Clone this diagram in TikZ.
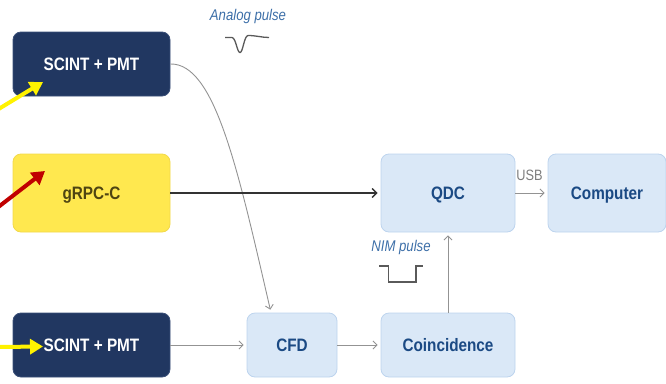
\documentclass[tikz,border=0pt]{standalone}
\usepackage{fontspec}
\setmainfont[FakeStretch=0.85]{Liberation Sans}
\usetikzlibrary{arrows.meta}
\definecolor{navy}{HTML}{213761}
\definecolor{navyedge}{HTML}{3A4F78}
\definecolor{sun}{HTML}{FFE84F}
\definecolor{sunedge}{HTML}{F2D94A}
\definecolor{suntext}{HTML}{4F4512}
\definecolor{pale}{HTML}{DAE8F7}
\definecolor{paleedge}{HTML}{BDD4EE}
\definecolor{paletext}{HTML}{1B4A84}
\definecolor{lbl}{HTML}{3D6FA8}
\definecolor{wire}{HTML}{939393}
\definecolor{darkwire}{HTML}{333333}
\definecolor{pulse}{HTML}{5A5A5A}
\definecolor{ray}{HTML}{FFF200}
\definecolor{redray}{HTML}{C00000}
\tikzset{
  boxbase/.style={rounded corners=8pt, inner sep=0pt, line width=0.8pt,
    text height=12.9pt, text depth=0pt,
    font=\bfseries\fontsize{18}{20}\selectfont},
  navybox/.style={boxbase, fill=navy, draw=navyedge, text=white},
  sunbox/.style={boxbase, fill=sun, draw=sunedge, text=suntext},
  palebox/.style={boxbase, fill=pale, draw=paleedge, text=paletext},
  graywire/.style={draw=wire, line width=0.9pt, -{Straight Barb[length=4pt,width=8pt]}, shorten >=3pt},
  blackwire/.style={draw=darkwire, line width=1.4pt, -{Straight Barb[length=4.5pt,width=9pt]}, shorten >=3pt},
  italiclabel/.style={font=\itshape\fontsize{15.5}{17}\selectfont, text=lbl, inner sep=0pt, anchor=base},
  pulseline/.style={draw=pulse, line width=1.3pt},
  beam/.style={line width=4pt, -{Triangle[length=13pt,width=15pt]}},
}
\begin{document}
\begin{tikzpicture}[x=1pt,y=-1pt]
\useasboundingbox (0,0) rectangle (666,383);

\node[navybox, minimum width=157pt, minimum height=64pt] (scinta) at (91.5,64) {SCINT + PMT};
\node[sunbox, minimum width=157pt, minimum height=78pt] (grpc) at (91.5,193) {gRPC-C};
\node[navybox, minimum width=157pt, minimum height=64pt] (scintb) at (91.5,345) {SCINT + PMT};
\node[palebox, minimum width=90pt, minimum height=64pt] (cfd) at (292,345) {CFD};
\node[palebox, minimum width=134pt, minimum height=78pt] (qdc) at (448,193) {QDC};
\node[palebox, minimum width=118pt, minimum height=78pt] (comp) at (607,193) {Computer};
\node[palebox, minimum width=134pt, minimum height=64pt] (coinc) at (448,345) {Coincidence};

% connectors
\draw[graywire] (scinta.east) .. controls (215,63) and (238,170) .. ([xshift=-21pt]cfd.north);
\draw[blackwire] (grpc.east) -- (qdc.west);
\draw[graywire] (scintb.east) -- (cfd.west);
\draw[graywire] (cfd.east) -- (coinc.west);
\draw[graywire] (coinc.north) -- (qdc.south);
\draw[graywire] (qdc.east) -- (comp.west);

\node[font=\fontsize{15}{17}\selectfont, text=wire!85!black, inner sep=0pt] (usb) at (529.5,175) {USB};

% labels
\node[italiclabel] (analog) at (248,20.5) {Analog pulse};
\node[italiclabel] (nim) at (401,251) {NIM pulse};

% pulse shapes
\draw[pulseline] (225,37.5) -- (232,37.5) .. controls (236,38) and (237,52.5) .. (240,52.5)
  .. controls (243,52.5) and (244,36) .. (248,35.5) .. controls (256,35.5) and (262,37.5) .. (269,37.5);
\draw[pulseline] (379,266) -- (388.5,266) -- (388.5,282) -- (416,282) -- (416,266) -- (423,266);

% incoming radiation
\coordinate (rayas) at (-3,110);
\coordinate (rayat) at (43,82);
\coordinate (raybs) at (-3,347);
\coordinate (raybt) at (43,346.5);
\coordinate (redrs) at (-3,208);
\coordinate (redrt) at (45,171);
\draw[beam, ray] (rayas) -- (rayat);
\draw[beam, ray] (raybs) -- (raybt);
\draw[beam, redray] (redrs) -- (redrt);
\end{tikzpicture}
\end{document}
